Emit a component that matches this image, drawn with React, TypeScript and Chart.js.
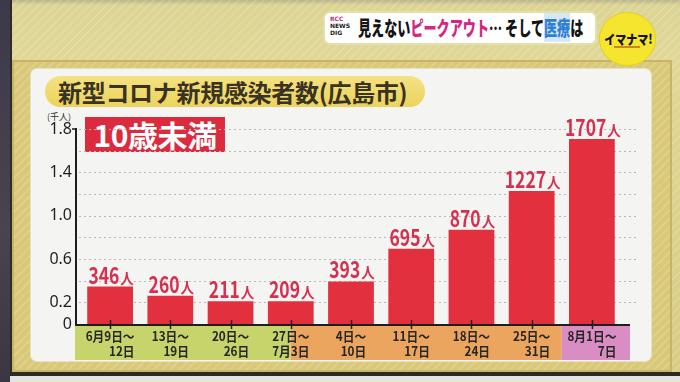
import React, { useEffect, useRef } from "react";
import { Chart, registerables } from "chart.js";

Chart.register(...registerables);

// ---- data ----
const periodStart = ["6月9日～", "13日～", "20日～", "27日～", "4日～", "11日～", "18日～", "25日～", "8月1日～"];
const periodEnd = ["12日", "19日", "26日", "7月3日", "10日", "17日", "24日", "31日", "7日"];
const newCasesThousands = [0.346, 0.26, 0.211, 0.209, 0.393, 0.695, 0.87, 1.227, 1.707];
const caseLabels = ["346", "260", "211", "209", "393", "695", "870", "1227", "1707"];
const yTickValues = [0, 0.2, 0.6, 1.0, 1.4, 1.8];
const gridValues = [0.2, 0.4, 0.6, 0.8, 1.0, 1.2, 1.4, 1.6, 1.8];
// month bands in category-index units (June / July / August)
const monthBandFrom = [-0.6, 3, 7.5];
const monthBandTo = [3, 7.5, 8.6];
const monthBandColors = ["#c7d46c", "#eca55f", "#d98dc2"];

const JP = '"Noto Sans CJK JP", "Noto Sans", sans-serif';

function drawScaled(ctx: CanvasRenderingContext2D, text: string, x: number, y: number, sx: number) {
  ctx.save();
  ctx.translate(x, y);
  ctx.scale(sx, 1);
  ctx.fillText(text, 0, 0);
  ctx.restore();
}

const decorPlugin = {
  id: "decor",
  beforeDatasetsDraw(chart: any) {
    const { ctx } = chart;
    const y = chart.scales.y;
    ctx.save();
    ctx.strokeStyle = "#b9b9b9";
    ctx.lineWidth = 1;
    ctx.setLineDash([2, 3]);
    for (const v of gridValues) {
      const py = Math.round(y.getPixelForValue(v)) + 0.5;
      ctx.beginPath();
      ctx.moveTo(79, py);
      ctx.lineTo(638, py);
      ctx.stroke();
    }
    ctx.restore();
  },
  afterDatasetsDraw(chart: any) {
    const { ctx } = chart;
    const x = chart.scales.x;
    const y = chart.scales.y;
    const y0 = y.getPixelForValue(0);
    const yTop = y.getPixelForValue(1.8);
    const step = x.getPixelForValue(1) - x.getPixelForValue(0);
    const axisLeft = 76;
    const axisRight = 630;

    // month bands
    const bandTop = y0 + 1;
    const bandBottom = 360;
    for (let i = 0; i < monthBandColors.length; i++) {
      let a = x.getPixelForValue(0) + monthBandFrom[i] * step;
      let b = x.getPixelForValue(0) + monthBandTo[i] * step;
      if (i === 0) a = axisLeft - 1;
      if (i === monthBandColors.length - 1) b = axisRight;
      ctx.fillStyle = monthBandColors[i];
      ctx.fillRect(a, bandTop, b - a, bandBottom - bandTop);
    }

    // axes
    ctx.save();
    ctx.strokeStyle = "#1e1e1e";
    ctx.lineWidth = 2;
    ctx.beginPath();
    ctx.moveTo(axisLeft, yTop - 1);
    ctx.lineTo(axisLeft, y0 + 1);
    ctx.lineTo(axisRight, y0 + 1);
    ctx.stroke();
    ctx.lineWidth = 1.5;
    ctx.beginPath();
    ctx.moveTo(axisLeft - 4, yTop);
    ctx.lineTo(axisLeft, yTop);
    ctx.stroke();
    for (let i = 0; i < periodStart.length; i++) {
      const px = Math.round(x.getPixelForValue(i)) + 0.5;
      ctx.beginPath();
      ctx.moveTo(px, y0 - 4);
      ctx.lineTo(px, y0 + 5);
      ctx.stroke();
    }
    ctx.restore();

    // category labels
    ctx.save();
    ctx.fillStyle = "#262626";
    ctx.textBaseline = "alphabetic";
    ctx.font = `bold 13px ${JP}`;
    const sx = 0.9;
    for (let i = 0; i < periodStart.length; i++) {
      const cx = x.getPixelForValue(i);
      const w1 = ctx.measureText(periodStart[i]).width * sx;
      const left = cx - w1 / 2;
      drawScaled(ctx, periodStart[i], left, 341, sx);
      const w2 = ctx.measureText(periodEnd[i]).width * sx;
      drawScaled(ctx, periodEnd[i], left + w1 - w2, 356, sx);
    }
    ctx.restore();

    // value labels
    const meta = chart.getDatasetMeta(0);
    ctx.save();
    ctx.fillStyle = "#d7304f";
    ctx.textBaseline = "alphabetic";
    const nsx = 0.76;
    meta.data.forEach((bar: any, i: number) => {
      ctx.font = `bold 23px ${JP}`;
      const nw = ctx.measureText(caseLabels[i]).width * nsx;
      ctx.font = `bold 15px ${JP}`;
      const jw = ctx.measureText("人").width * 0.9;
      const total = nw + 1 + jw;
      const sxp = bar.x - total / 2 + 1;
      const by = bar.y - 3;
      ctx.font = `bold 23px ${JP}`;
      drawScaled(ctx, caseLabels[i], sxp, by, nsx);
      ctx.font = `bold 15px ${JP}`;
      drawScaled(ctx, "人", sxp + nw + 1, by, 0.9);
    });
    ctx.restore();
  },
};

function ChartCanvas() {
  const ref = useRef<HTMLCanvasElement | null>(null);
  useEffect(() => {
    if (!ref.current) return;
    const chart = new Chart(ref.current, {
      type: "bar",
      data: {
        labels: periodStart,
        datasets: [
          {
            data: newCasesThousands,
            backgroundColor: "#e3303f",
            borderWidth: 0,
            barPercentage: 0.76,
            categoryPercentage: 1,
          },
        ],
      },
      options: {
        responsive: false,
        animation: false,
        events: [],
        layout: { padding: { left: 0, top: 129, right: 58, bottom: 58 } },
        plugins: { legend: { display: false }, tooltip: { enabled: false } },
        scales: {
          x: { display: false },
          y: {
            min: 0,
            max: 1.8,
            grid: { display: false, drawTicks: false },
            border: { display: false },
            afterFit: (scale: any) => {
              scale.width = 80;
            },
            ticks: {
              stepSize: 0.2,
              autoSkip: false,
              padding: 8,
              color: "#1f1f1f",
              font: { size: 16, family: '"Noto Sans", sans-serif' },
              callback: (v: any) => {
                const r = Math.round(Number(v) * 10);
                const hit = yTickValues.some((t) => Math.round(t * 10) === r);
                if (!hit) return null;
                return r === 0 ? "0" : (r / 10).toFixed(1);
              },
            },
          },
        },
      },
      plugins: [decorPlugin],
    });
    return () => chart.destroy();
  }, []);
  return (
    <canvas
      ref={ref}
      width={680}
      height={382}
      style={{ position: "absolute", left: 0, top: 0, width: 680, height: 382 }}
    />
  );
}

export default function App() {
  useEffect(() => {
    document.body.style.margin = "0";
  }, []);
  const stripes =
    "repeating-linear-gradient(135deg, rgba(255,255,255,0.13) 0px, rgba(255,255,255,0.13) 2px, rgba(0,0,0,0) 2px, rgba(0,0,0,0) 6px)";
  return (
    <div
      style={{
        position: "relative",
        width: 680,
        height: 382,
        overflow: "hidden",
        background: `${stripes}, linear-gradient(180deg, #b9b48c 0px, #dcd493 5px, #e0d796 60px, #d8cb82 380px)`,
        fontFamily: JP,
        margin: 0,
      }}
    >
      {/* left studio strip */}
      <div style={{ position: "absolute", left: 0, top: 0, width: 10, height: 382, background: "linear-gradient(180deg,#3b3a4a,#4a4350 60%,#3a3644)" }} />
      <div style={{ position: "absolute", left: 10, top: 0, width: 2, height: 382, background: "#2f2c28" }} />
      {/* board frame */}
      <div
        style={{
          position: "absolute",
          left: 12,
          top: 60,
          width: 660,
          height: 312,
          background: `${stripes}, #d9c878`,
          boxShadow: "inset 0 0 0 2px #c8b466",
        }}
      />
      {/* bottom edge */}
      <div style={{ position: "absolute", left: 10, top: 372, width: 670, height: 4, background: "#2c2a24" }} />
      <div style={{ position: "absolute", left: 10, top: 376, width: 670, height: 6, background: "#e4e4e0" }} />
      {/* white panel */}
      <div
        style={{
          position: "absolute",
          left: 31,
          top: 69,
          width: 620,
          height: 292,
          background: "#f4f4f2",
          borderRadius: 6,
          boxShadow: "0 0 0 1px #e8e2c2",
        }}
      />
      {/* title pill */}
      <div
        style={{
          position: "absolute",
          left: 45,
          top: 76,
          width: 380,
          height: 31,
          borderRadius: 16,
          background: "linear-gradient(180deg,#f4e283 0%,#ecd35c 100%)",
          color: "#3a3223",
          fontWeight: 700,
          fontSize: 24,
          lineHeight: "31px",
          paddingLeft: 13,
          boxSizing: "border-box",
          whiteSpace: "nowrap",
          letterSpacing: -0.3,
        }}
      >
        新型コロナ新規感染者数(広島市)
      </div>
      {/* unit */}
      <div style={{ position: "absolute", left: 47, top: 110, fontSize: 9, color: "#333", whiteSpace: "nowrap" }}>(千人)</div>
      {/* age box */}
      <div
        style={{
          position: "absolute",
          left: 85,
          top: 117,
          width: 140,
          height: 35,
          background: "#dc2a3f",
          color: "#ffffff",
          fontWeight: 700,
          fontSize: 30,
          lineHeight: "35px",
          textAlign: "center",
          whiteSpace: "nowrap",
          letterSpacing: -0.5,
        }}
      >
        10歳未満
      </div>
      {/* top banner */}
      <div
        style={{
          position: "absolute",
          left: 325,
          top: 13,
          width: 270,
          height: 30,
          background: "#ffffff",
          borderRadius: 5,
          boxShadow: "0 0 0 2px #dfe3a8",
          overflow: "hidden",
        }}
      >
        <div style={{ position: "absolute", left: 5, top: 2, fontSize: 6, lineHeight: "7px", fontWeight: 700, color: "#222", fontFamily: '"DejaVu Sans", sans-serif' }}>
          <div style={{ color: "#c0307a" }}>RCC</div>
          <div>NEWS</div>
          <div>DIG</div>
        </div>
        <div
          style={{
            position: "absolute",
            left: 33,
            top: 0,
            fontSize: 20,
            lineHeight: "30px",
            fontWeight: 900,
            color: "#141414",
            whiteSpace: "nowrap",
            transform: "scaleX(0.655)",
            transformOrigin: "left center",
          }}
        >
          見えない<span style={{ color: "#d62680" }}>ピークアウト</span>… そして
          <span style={{ color: "#2f7fd6", background: "#d6e8f8" }}>医療</span>は
        </div>
      </div>
      {/* logo circle */}
      <div
        style={{
          position: "absolute",
          left: 600,
          top: 13,
          width: 55,
          height: 52,
          borderRadius: "50%",
          background: "#f6e52e",
          boxShadow: "0 0 0 1px #e4d020",
        }}
      >
        <div
          style={{
            position: "absolute",
            left: 0,
            width: 55,
            top: 16,
            textAlign: "center",
            fontSize: 13,
            fontWeight: 900,
            color: "#141414",
            whiteSpace: "nowrap",
            transform: "scaleX(0.85)",
          }}
        >
          イマナマ!
        </div>
        <div style={{ position: "absolute", left: 14, top: 33, width: 26, height: 2, background: "#c98a20" }} />
      </div>
      <ChartCanvas />
    </div>
  );
}
